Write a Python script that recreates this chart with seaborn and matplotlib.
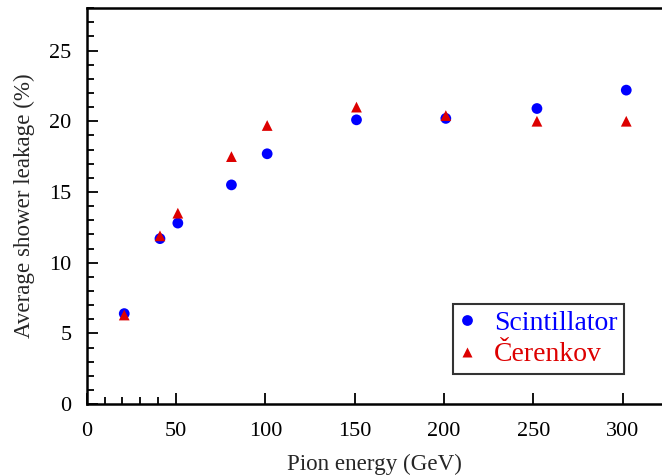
import matplotlib
matplotlib.use("Agg")
import matplotlib.pyplot as plt
import seaborn as sns
import pandas as pd
from matplotlib.ticker import MultipleLocator, FixedLocator

# Beam energies (GeV) and average shower leakage (%)
energy = [21, 41, 51, 81, 101, 151, 201, 252, 302]
scintillator = [6.4, 11.7, 12.8, 15.5, 17.7, 20.1, 20.2, 20.9, 22.2]
cerenkov = [6.3, 11.9, 13.5, 17.5, 19.7, 21.0, 20.4, 20.0, 20.0]
series_names = ["Scintillator", "Čerenkov"]
series_colors = ["#0000ff", "#dd0000"]
series_markers = ["o", "^"]

df = pd.concat([
    pd.DataFrame({"energy": energy, "leakage": scintillator, "readout": series_names[0]}),
    pd.DataFrame({"energy": energy, "leakage": cerenkov, "readout": series_names[1]}),
])

sns.set_theme(style="ticks")
plt.rcParams["font.family"] = ["Liberation Serif", "DejaVu Serif"]

fig = plt.figure(figsize=(6.62, 4.76), dpi=100)
ax = fig.add_axes([0.131, 0.151, 0.869, 0.832])

sns.scatterplot(
    data=df, x="energy", y="leakage", hue="readout", style="readout",
    palette=dict(zip(series_names, series_colors)),
    markers=dict(zip(series_names, series_markers)),
    s=60, edgecolor="none", ax=ax, legend=True,
)

ax.set_xlim(0, 322)
ax.set_ylim(0, 28)
ax.xaxis.set_major_locator(FixedLocator([0, 50, 100, 150, 200, 250, 300]))
ax.xaxis.set_minor_locator(FixedLocator([10, 20, 30, 40]))
ax.yaxis.set_major_locator(MultipleLocator(5))
ax.yaxis.set_minor_locator(MultipleLocator(1))
ax.tick_params(which="both", direction="in", colors="black", labelsize=16,
               top=False, right=False, width=1.3)
ax.tick_params(which="major", length=8)
ax.tick_params(axis="x", which="major", pad=13)
ax.tick_params(axis="y", which="major", pad=11)
ax.tick_params(which="minor", length=5)

for side in ["left", "bottom", "top"]:
    ax.spines[side].set_linewidth(1.8)
    ax.spines[side].set_color("black")
ax.spines["right"].set_visible(False)

ax.set_xlabel("Pion energy (GeV)", fontsize=16.6, labelpad=9)
ax.set_ylabel("Average shower leakage (%)", fontsize=16.6, labelpad=10)

handles, labels = ax.get_legend_handles_labels()
leg = ax.legend(handles, labels, loc="lower left", bbox_to_anchor=(0.637, 0.075),
                frameon=True, fancybox=False, fontsize=20, labelcolor=series_colors,
                handletextpad=0.72, borderpad=0.25, labelspacing=0.22,
                handlelength=0.5, borderaxespad=0)
leg.get_frame().set_edgecolor("black")
leg.get_frame().set_linewidth(1.5)

fig.savefig("out.png", dpi=100)
